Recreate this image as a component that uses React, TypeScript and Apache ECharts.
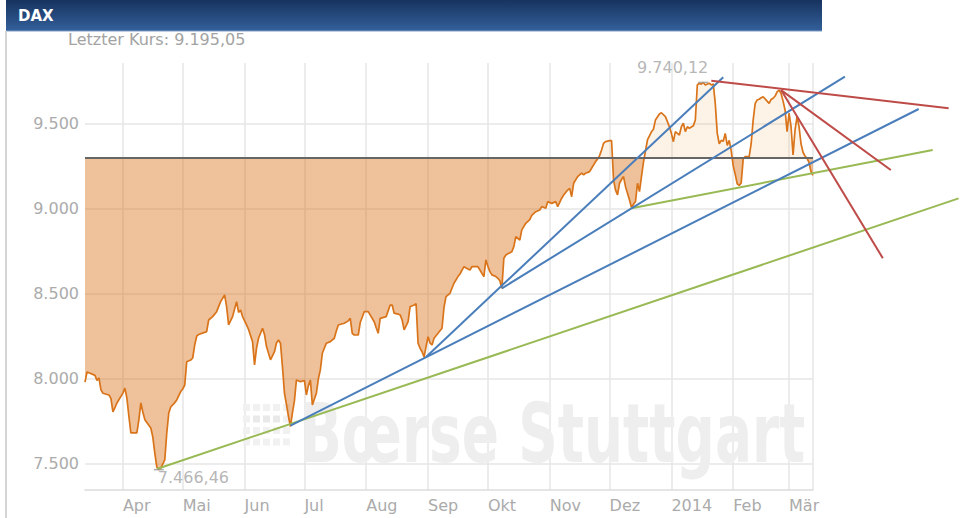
import React, { useEffect, useRef } from "react";
import * as echarts from "echarts";

// ---------- data ----------
const axisStart = "2013-03-13";
const axisEnd = "2014-03-13";
const yMin = 7347;
const yMax = 9854;
const referenceLevel = 9300;
const lastPrice = 9195.05;

const monthNames = ["Jan", "Feb", "Mär", "Apr", "Mai", "Jun", "Jul", "Aug", "Sep", "Okt", "Nov", "Dez"];

const daxCloses: [string, number][] = [
  ["2013-03-13", 7980], ["2013-03-14", 8040], ["2013-03-15", 8035], ["2013-03-18", 8020],
  ["2013-03-19", 7990], ["2013-03-20", 8005], ["2013-03-21", 7935], ["2013-03-22", 7915],
  ["2013-03-25", 7905], ["2013-03-26", 7885], ["2013-03-27", 7805], ["2013-03-28", 7830],
  ["2013-03-29", 7858], ["2013-04-01", 7916], ["2013-04-02", 7945], ["2013-04-03", 7887],
  ["2013-04-04", 7780], ["2013-04-05", 7682], ["2013-04-08", 7682], ["2013-04-09", 7758],
  ["2013-04-10", 7858], ["2013-04-11", 7805], ["2013-04-12", 7760], ["2013-04-15", 7711],
  ["2013-04-16", 7658], ["2013-04-17", 7564], ["2013-04-18", 7482], ["2013-04-19", 7466.46],
  ["2013-04-20", 7476], ["2013-04-22", 7524], ["2013-04-23", 7682], ["2013-04-24", 7799],
  ["2013-04-25", 7834], ["2013-04-27", 7860], ["2013-04-28", 7876], ["2013-04-30", 7925],
  ["2013-05-01", 7940], ["2013-05-02", 7963], ["2013-05-03", 8100], ["2013-05-05", 8110],
  ["2013-05-06", 8122], ["2013-05-07", 8198], ["2013-05-08", 8250], ["2013-05-09", 8260],
  ["2013-05-13", 8277], ["2013-05-14", 8345], ["2013-05-16", 8365], ["2013-05-18", 8394],
  ["2013-05-20", 8453], ["2013-05-22", 8492], ["2013-05-23", 8423], ["2013-05-24", 8316],
  ["2013-05-26", 8365], ["2013-05-28", 8453], ["2013-05-29", 8390], ["2013-05-30", 8404],
  ["2013-05-31", 8365], ["2013-06-02", 8316], ["2013-06-03", 8290], ["2013-06-05", 8218],
  ["2013-06-06", 8081], ["2013-06-07", 8180], ["2013-06-08", 8238], ["2013-06-10", 8297],
  ["2013-06-11", 8260], ["2013-06-12", 8189], ["2013-06-14", 8111], ["2013-06-16", 8159],
  ["2013-06-17", 8210], ["2013-06-18", 8228], ["2013-06-19", 8209], ["2013-06-20", 8071],
  ["2013-06-21", 7915], ["2013-06-22", 7850], ["2013-06-23", 7780], ["2013-06-24", 7720],
  ["2013-06-25", 7800], ["2013-06-26", 7870], ["2013-06-27", 7993], ["2013-06-29", 7983],
  ["2013-07-01", 7990], ["2013-07-02", 7905], ["2013-07-03", 7960], ["2013-07-04", 7993],
  ["2013-07-05", 7846], ["2013-07-07", 7915], ["2013-07-08", 8000], ["2013-07-09", 8052],
  ["2013-07-10", 8150], ["2013-07-12", 8209], ["2013-07-14", 8218], ["2013-07-16", 8238],
  ["2013-07-17", 8280], ["2013-07-18", 8316], ["2013-07-21", 8326], ["2013-07-23", 8340],
  ["2013-07-24", 8355], ["2013-07-25", 8267], ["2013-07-26", 8257], ["2013-07-28", 8257],
  ["2013-07-29", 8330], ["2013-07-31", 8394], ["2013-08-02", 8394], ["2013-08-05", 8335],
  ["2013-08-06", 8300], ["2013-08-07", 8267], ["2013-08-08", 8355], ["2013-08-11", 8365],
  ["2013-08-13", 8433], ["2013-08-14", 8433], ["2013-08-15", 8385], ["2013-08-17", 8380],
  ["2013-08-18", 8375], ["2013-08-19", 8345], ["2013-08-20", 8287], ["2013-08-21", 8310],
  ["2013-08-22", 8335], ["2013-08-23", 8423], ["2013-08-25", 8433], ["2013-08-26", 8440],
  ["2013-08-27", 8209], ["2013-08-28", 8179], ["2013-08-29", 8159], ["2013-08-30", 8128],
  ["2013-08-31", 8189], ["2013-09-01", 8247], ["2013-09-02", 8210], ["2013-09-03", 8199],
  ["2013-09-04", 8238], ["2013-09-06", 8267], ["2013-09-08", 8297], ["2013-09-09", 8420],
  ["2013-09-10", 8482], ["2013-09-12", 8502], ["2013-09-14", 8561], ["2013-09-16", 8600],
  ["2013-09-17", 8615], ["2013-09-19", 8658], ["2013-09-21", 8645], ["2013-09-22", 8639],
  ["2013-09-23", 8658], ["2013-09-25", 8658], ["2013-09-26", 8658], ["2013-09-27", 8639],
  ["2013-09-29", 8600], ["2013-09-30", 8698], ["2013-10-01", 8660], ["2013-10-02", 8629],
  ["2013-10-03", 8610], ["2013-10-05", 8600], ["2013-10-06", 8590], ["2013-10-07", 8575],
  ["2013-10-08", 8531], ["2013-10-09", 8708], ["2013-10-10", 8727], ["2013-10-12", 8740],
  ["2013-10-13", 8746], ["2013-10-14", 8776], ["2013-10-15", 8834], ["2013-10-17", 8815],
  ["2013-10-18", 8874], ["2013-10-20", 8913], ["2013-10-22", 8935], ["2013-10-23", 8960],
  ["2013-10-25", 8981], ["2013-10-27", 8991], ["2013-10-28", 9011], ["2013-10-30", 9001],
  ["2013-10-31", 9040], ["2013-11-02", 9030], ["2013-11-04", 9040], ["2013-11-05", 9011],
  ["2013-11-07", 9060], ["2013-11-08", 9079], ["2013-11-10", 9108], ["2013-11-11", 9118],
  ["2013-11-12", 9069], ["2013-11-13", 9148], ["2013-11-15", 9187], ["2013-11-17", 9207],
  ["2013-11-18", 9197], ["2013-11-19", 9207], ["2013-11-21", 9216], ["2013-11-22", 9236],
  ["2013-11-24", 9275], ["2013-11-25", 9290], ["2013-11-26", 9310], ["2013-11-27", 9343],
  ["2013-11-28", 9383], ["2013-11-29", 9392], ["2013-12-01", 9398], ["2013-12-02", 9398],
  ["2013-12-03", 9167], ["2013-12-04", 9108], ["2013-12-05", 9080], ["2013-12-06", 9148],
  ["2013-12-07", 9170], ["2013-12-08", 9187], ["2013-12-09", 9128], ["2013-12-11", 9050],
  ["2013-12-12", 9005], ["2013-12-13", 9025], ["2013-12-14", 9040], ["2013-12-15", 9148],
  ["2013-12-16", 9099], ["2013-12-17", 9187], ["2013-12-18", 9270], ["2013-12-20", 9402],
  ["2013-12-22", 9450], ["2013-12-23", 9465], ["2013-12-24", 9519], ["2013-12-26", 9555],
  ["2013-12-27", 9562], ["2013-12-29", 9539], ["2013-12-30", 9510], ["2013-12-31", 9480],
  ["2014-01-01", 9441], ["2014-01-02", 9392], ["2014-01-03", 9451], ["2014-01-05", 9431],
  ["2014-01-06", 9480], ["2014-01-07", 9500], ["2014-01-08", 9451], ["2014-01-09", 9480],
  ["2014-01-10", 9471], ["2014-01-12", 9485], ["2014-01-13", 9519], ["2014-01-14", 9725],
  ["2014-01-15", 9735], ["2014-01-16", 9730], ["2014-01-17", 9740.12], ["2014-01-18", 9725],
  ["2014-01-20", 9735], ["2014-01-21", 9725], ["2014-01-22", 9731], ["2014-01-23", 9617],
  ["2014-01-24", 9441], ["2014-01-25", 9380], ["2014-01-26", 9400], ["2014-01-27", 9395],
  ["2014-01-28", 9441], ["2014-01-29", 9370], ["2014-01-30", 9400], ["2014-01-31", 9340],
  ["2014-02-01", 9250], ["2014-02-02", 9200], ["2014-02-03", 9145], ["2014-02-04", 9135],
  ["2014-02-05", 9150], ["2014-02-06", 9290], ["2014-02-07", 9305], ["2014-02-09", 9304],
  ["2014-02-10", 9380], ["2014-02-11", 9519], ["2014-02-12", 9615], ["2014-02-13", 9637],
  ["2014-02-14", 9641], ["2014-02-15", 9650], ["2014-02-16", 9656], ["2014-02-18", 9630],
  ["2014-02-19", 9617], ["2014-02-20", 9640], ["2014-02-21", 9647], ["2014-02-22", 9660],
  ["2014-02-23", 9685], ["2014-02-24", 9695], ["2014-02-25", 9675], ["2014-02-26", 9630],
  ["2014-02-27", 9578], ["2014-02-28", 9451], ["2014-03-01", 9559], ["2014-03-02", 9480],
  ["2014-03-03", 9314], ["2014-03-04", 9461], ["2014-03-05", 9539], ["2014-03-06", 9480],
  ["2014-03-07", 9380], ["2014-03-08", 9330], ["2014-03-09", 9308], ["2014-03-10", 9294],
  ["2014-03-11", 9270], ["2014-03-12", 9216], ["2014-03-13", 9195.05],
];

const minPoint: [string, number] = ["2013-04-19", 7466.46];
const maxPoint: [string, number] = ["2014-01-17", 9740.12];

const greenTrendLines: [string, number][][] = [
  [["2013-04-18", 7470], ["2014-05-25", 9059]],
  [["2013-12-12", 9001], ["2014-05-12", 9343]],
];
const blueTrendLines: [string, number][][] = [
  [["2013-06-24", 7725], ["2014-05-05", 9584]],
  [["2013-08-31", 8128], ["2014-01-27", 9770]],
  [["2013-10-08", 8531], ["2014-03-29", 9774]],
];
const redTrendLines: [string, number][][] = [
  [["2014-01-21", 9750], ["2014-05-20", 9588]],
  [["2014-02-25", 9695], ["2014-04-21", 9226]],
  [["2014-02-25", 9695], ["2014-04-17", 8708]],
];

// ---------- layout ----------
const W = 961;
const PLOT_LEFT = 85;
const PLOT_RIGHT = 813;
const PLOT_TOP = 63;
const PLOT_BOTTOM = 490;
const FONT = "DejaVu Sans";

// overlay grid (drawing area for trend lines) reaches the right edge of the page:
// its time axis keeps the same scale as the main one
const startMs = new Date(2013, 2, 13).getTime();
const endMs = new Date(2014, 2, 13).getTime();
const overlayEndMs = startMs + ((endMs - startMs) * (W - PLOT_LEFT)) / (PLOT_RIGHT - PLOT_LEFT);

const fmtDE = (v: number, decimals = 0) => {
  const [i, f] = v.toFixed(decimals).split(".");
  const int = i.replace(/\B(?=(\d{3})+(?!\d))/g, ".");
  return f ? `${int},${f}` : int;
};

const trendSeries = (lines: [string, number][][], color: string, name: string) =>
  lines.map((data, k) => ({
    type: "line",
    name: `${name}${k}`,
    xAxisIndex: 1,
    yAxisIndex: 1,
    data,
    showSymbol: false,
    symbol: "none",
    clip: false,
    silent: true,
    z: 6,
    lineStyle: { color, width: 2 },
  }));

function buildOption(): any {
  const dots: any[] = [];
  for (let r = 0; r < 4; r++) {
    for (let c = 0; c < 5; c++) {
      dots.push({
        type: "rect",
        shape: { x: 243 + c * 10, y: 404 + r * 11.5, width: 7, height: 7 },
        style: { fill: r === 1 && c > 0 && c < 4 ? "#e9e9e9" : "#f1f1f1" },
        z: 1,
        silent: true,
      });
    }
  }
  const gridBox = { top: PLOT_TOP, bottom: 518 - PLOT_BOTTOM, left: PLOT_LEFT, containLabel: false };
  return {
    animation: false,
    backgroundColor: "#ffffff",
    textStyle: { fontFamily: FONT },
    grid: [
      { ...gridBox, right: W - PLOT_RIGHT },
      { ...gridBox, right: 0 },
    ],
    xAxis: [
      {
        type: "time",
        gridIndex: 0,
        min: axisStart,
        max: axisEnd,
        splitNumber: 12,
        axisLine: { show: true, lineStyle: { color: "#dcdcdc", width: 1.5 } },
        axisTick: { show: false },
        splitLine: {
          show: true,
          showMinLine: false,
          lineStyle: { color: "#e6e6e6", width: 1.5 },
        },
        axisLabel: {
          align: "left",
          margin: 7,
          fontSize: 16,
          fontFamily: FONT,
          color: "#ababab",
          hideOverlap: false,
          formatter: (value: number) => {
            const d = new Date(value);
            if (d.getDate() !== 1 || d.getHours() !== 0) return "";
            return d.getMonth() === 0 ? String(d.getFullYear()) : monthNames[d.getMonth()];
          },
        },
      },
      {
        type: "time",
        gridIndex: 1,
        min: startMs,
        max: overlayEndMs,
        show: false,
      },
    ],
    yAxis: [
      {
        type: "value",
        gridIndex: 0,
        min: yMin,
        max: yMax,
        splitNumber: 5,
        axisLine: { show: false },
        axisTick: { show: false },
        splitLine: {
          show: true,
          showMinLine: false,
          showMaxLine: false,
          lineStyle: { color: "#e6e6e6", width: 1.5 },
        },
        axisLabel: {
          margin: 6,
          fontSize: 16,
          fontFamily: FONT,
          color: "#ababab",
          showMinLabel: false,
          showMaxLabel: false,
          formatter: (v: number) => fmtDE(v),
        },
      },
      {
        type: "value",
        gridIndex: 1,
        min: yMin,
        max: yMax,
        show: false,
        splitLine: { show: false },
      },
    ],
    graphic: [
      {
        type: "rect",
        shape: { x: 6, y: 0, width: 816, height: 31 },
        style: {
          fill: {
            type: "linear", x: 0, y: 0, x2: 0, y2: 1,
            colorStops: [
              { offset: 0, color: "#17335f" },
              { offset: 1, color: "#33609b" },
            ],
          },
        },
        z: 10,
        silent: true,
      },
      {
        type: "line",
        shape: { x1: 6, y1: 31, x2: 822, y2: 31 },
        style: { stroke: "#7f9cc4", lineWidth: 1 },
        z: 10,
        silent: true,
      },
      {
        type: "line",
        shape: { x1: 6, y1: 31, x2: 6, y2: 518 },
        style: { stroke: "#d5d5d5", lineWidth: 2 },
        z: 10,
        silent: true,
      },
      {
        type: "text",
        x: 18,
        y: 16,
        style: {
          text: "DAX",
          fill: "#ffffff",
          fontSize: 15,
          fontWeight: "bold",
          fontFamily: FONT,
          textVerticalAlign: "middle",
        },
        z: 11,
        silent: true,
      },
      {
        type: "text",
        x: 68,
        y: 39,
        style: {
          text: `Letzter Kurs: ${fmtDE(lastPrice, 2)}`,
          fill: "#a3a3a3",
          fontSize: 16,
          fontFamily: FONT,
          textVerticalAlign: "middle",
        },
        z: 11,
        silent: true,
      },
      {
        type: "text",
        x: 300,
        y: 433,
        scaleX: 0.67,
        style: {
          text: "Bœrse Stuttgart",
          fill: "#eeeeee",
          fontSize: 82,
          fontWeight: "bold",
          fontFamily: FONT,
          textVerticalAlign: "middle",
        },
        z: 1,
        silent: true,
      },
      ...dots,
    ],
    series: [
      {
        id: "dax",
        type: "line",
        name: "DAX",
        xAxisIndex: 0,
        yAxisIndex: 0,
        data: daxCloses,
        showSymbol: false,
        symbol: "none",
        z: 3,
        lineStyle: { color: "#d9741a", width: 1.7 },
        areaStyle: { origin: referenceLevel, opacity: 1, color: "rgba(217,115,26,0.44)" },
        markLine: {
          silent: true,
          symbol: ["none", "none"],
          label: { show: false },
          lineStyle: { color: "#666666", width: 2, type: "solid" },
          data: [{ yAxis: referenceLevel }],
        },
      },
      {
        type: "scatter",
        name: "extremes",
        xAxisIndex: 0,
        yAxisIndex: 0,
        symbol: "rect",
        symbolSize: [10, 1.5],
        itemStyle: { color: "#9a9a9a" },
        z: 7,
        silent: true,
        data: [
          {
            value: minPoint,
            label: {
              show: true,
              position: "right",
              distance: 0,
              offset: [-6, 8],
              formatter: fmtDE(minPoint[1], 2),
              fontSize: 16,
              fontFamily: FONT,
              color: "#a3a3a3",
            },
          },
          {
            value: maxPoint,
            label: {
              show: true,
              position: "left",
              distance: 0,
              offset: [10, -15],
              formatter: fmtDE(maxPoint[1], 2),
              fontSize: 16,
              fontFamily: FONT,
              color: "#a3a3a3",
            },
          },
        ],
      },
      ...trendSeries(greenTrendLines, "#98b954", "green"),
      ...trendSeries(blueTrendLines, "#4a7ebb", "blue"),
      ...trendSeries(redTrendLines, "#be4b48", "red"),
    ],
  };
}

export default function App() {
  const ref = useRef<HTMLDivElement>(null);
  useEffect(() => {
    if (!ref.current) return;
    const chart = echarts.init(ref.current, null, { renderer: "svg" });
    chart.setOption(buildOption());
    const h = chart.getHeight();
    const yRef = chart.convertToPixel({ yAxisIndex: 0 }, referenceLevel) as number;
    const p = Math.min(1, Math.max(0, yRef / h));
    chart.setOption({
      series: [
        {
          id: "dax",
          areaStyle: {
            origin: referenceLevel,
            opacity: 1,
            color: {
              type: "linear",
              x: 0, y: 0, x2: 0, y2: h,
              global: true,
              colorStops: [
                { offset: 0, color: "rgba(240,170,90,0.15)" },
                { offset: p, color: "rgba(240,170,90,0.15)" },
                { offset: p, color: "rgba(217,115,26,0.44)" },
                { offset: 1, color: "rgba(217,115,26,0.44)" },
              ],
            },
          },
        },
      ],
    });
    return () => chart.dispose();
  }, []);
  return (
    <div
      ref={ref}
      style={{ position: "absolute", left: 0, top: 0, width: W, height: 518 }}
    />
  );
}
